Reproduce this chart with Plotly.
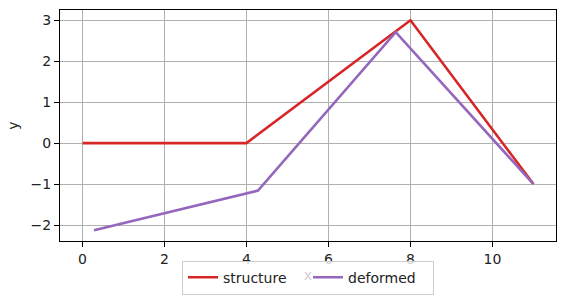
import plotly.graph_objects as go

structure_x = [0, 4, 8, 11]
structure_y = [0, 0, 3, -1]
deformed_x = [0.28, 4.28, 7.64, 11]
deformed_y = [-2.13, -1.16, 2.71, -1]

fig = go.Figure()
fig.add_trace(go.Scatter(x=structure_x, y=structure_y, mode="lines", name="structure",
                         line=dict(color="#d62728", width=2.6)))
fig.add_trace(go.Scatter(x=deformed_x, y=deformed_y, mode="lines", name="deformed",
                         line=dict(color="#9467bd", width=2.6)))

axis_common = dict(showgrid=True, gridcolor="#b0b0b0", gridwidth=1,
                   showline=True, linecolor="black", linewidth=1.2, mirror=True,
                   ticks="outside", ticklen=5, tickwidth=1, tickcolor="black",
                   zeroline=False, tickfont=dict(size=14, color="#222"))

fig.update_layout(
    width=565, height=295,
    margin=dict(l=60, r=9, t=10, b=54, autoexpand=False),
    paper_bgcolor="white", plot_bgcolor="white",
    font=dict(family="DejaVu Sans", size=14, color="#222"),
    xaxis=dict(range=[-0.55, 11.55], tickvals=[0, 2, 4, 6, 8, 10],
               title=dict(text="x", standoff=4, font=dict(size=14, color="#cfcfcf")), **axis_common),
    yaxis=dict(range=[-2.39, 3.25], tickvals=[-2, -1, 0, 1, 2, 3],
               ticktext=["\u22122", "\u22121", "0", "1", "2", "3"],
               title=dict(text="y", standoff=8, font=dict(size=14)), **axis_common),
    legend=dict(orientation="h", x=0.5, xanchor="center", y=-0.085, yanchor="top",
                bgcolor="rgba(255,255,255,0.8)", bordercolor="#cccccc", borderwidth=1,
                font=dict(size=14), itemwidth=30, entrywidth=80),
    showlegend=True,
)

fig.write_html("out.html")
